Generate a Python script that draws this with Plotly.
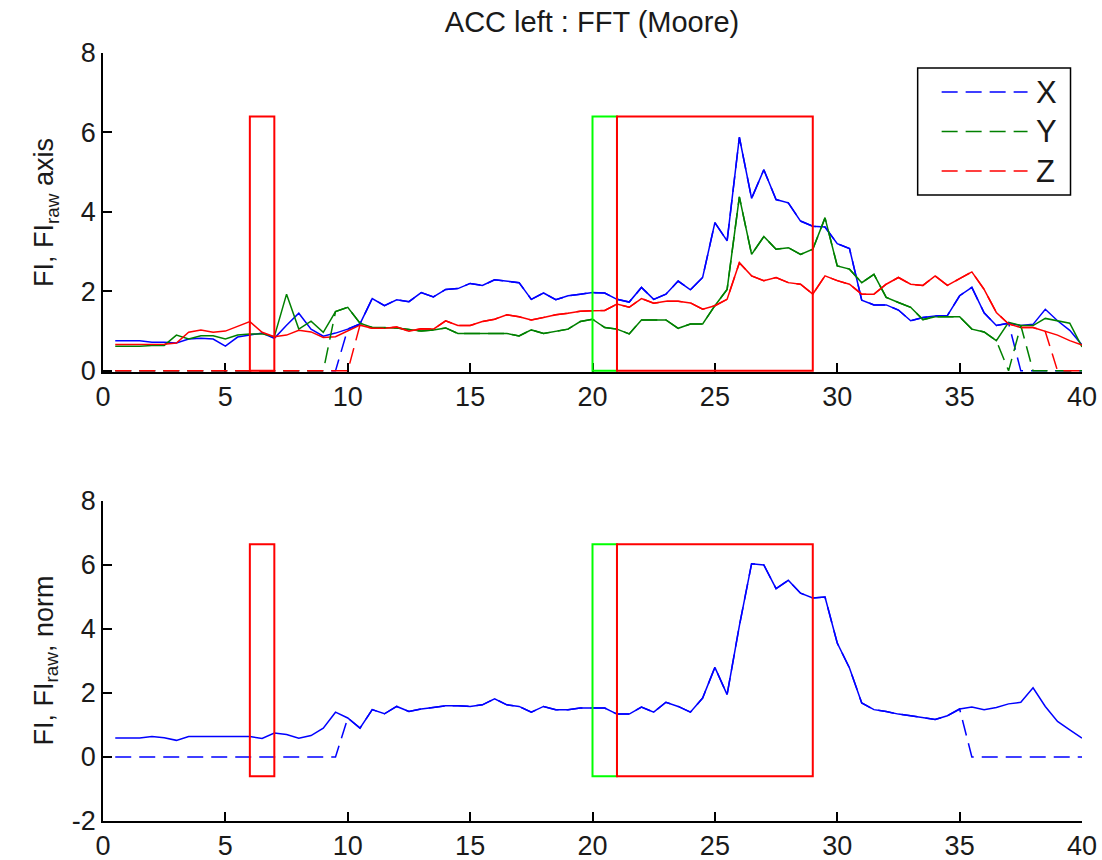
import numpy as np
import plotly.graph_objects as go

# Sample times (s), 0.5 s steps
t = np.arange(0.5, 40.0001, 0.5)

# Per-axis freeze index (solid) and raw index (dashed)
fi_x = [0.76, 0.76, 0.76, 0.72, 0.72, 0.70, 0.80, 0.82, 0.80, 0.62,
        0.85, 0.90, 0.95, 0.82, 1.15, 1.45, 1.05, 0.87, 0.95, 1.05,
        1.18, 1.82, 1.64, 1.79, 1.74, 1.97, 1.86, 2.05, 2.07, 2.20,
        2.15, 2.29, 2.26, 2.22, 1.80, 1.96, 1.79, 1.89, 1.93, 1.97,
        1.96, 1.80, 1.73, 2.10, 1.80, 1.93, 2.26, 2.04, 2.35, 3.73,
        3.27, 5.88, 4.34, 5.06, 4.31, 4.23, 3.77, 3.64, 3.62, 3.20,
        3.08, 1.78, 1.66, 1.66, 1.53, 1.26, 1.34, 1.38, 1.39, 1.89,
        2.10, 1.46, 1.14, 1.20, 1.14, 1.17, 1.55, 1.26, 1.02, 0.65]
fi_y = [0.62, 0.62, 0.62, 0.64, 0.64, 0.90, 0.80, 0.88, 0.88, 0.80,
        0.90, 0.93, 0.93, 0.86, 1.93, 1.05, 1.25, 0.97, 1.49, 1.60,
        1.20, 1.09, 1.09, 1.08, 1.04, 1.00, 1.03, 1.08, 0.94, 0.94,
        0.94, 0.94, 0.94, 0.88, 1.03, 0.94, 0.99, 1.05, 1.24, 1.30,
        1.09, 1.05, 0.93, 1.28, 1.28, 1.28, 1.07, 1.18, 1.18, 1.64,
        2.05, 4.38, 2.93, 3.38, 3.06, 3.10, 2.93, 3.06, 3.85, 2.64,
        2.56, 2.22, 2.43, 1.85, 1.72, 1.60, 1.29, 1.36, 1.36, 1.36,
        1.05, 0.98, 0.76, 1.22, 1.14, 1.14, 1.32, 1.26, 1.20, 0.60]
fi_z = [0.66, 0.66, 0.66, 0.66, 0.67, 0.70, 0.97, 1.03, 0.97, 1.00,
        1.12, 1.24, 0.97, 0.86, 0.90, 1.02, 0.98, 0.84, 0.86, 1.00,
        1.15, 1.07, 1.07, 1.10, 1.00, 1.06, 1.05, 1.26, 1.14, 1.14,
        1.24, 1.30, 1.41, 1.36, 1.28, 1.34, 1.41, 1.45, 1.50, 1.51,
        1.52, 1.68, 1.60, 1.82, 1.70, 1.75, 1.75, 1.71, 1.55, 1.64,
        1.80, 2.72, 2.39, 2.27, 2.35, 2.22, 2.18, 1.93, 2.39, 2.27,
        2.18, 1.93, 1.93, 2.18, 2.35, 2.18, 2.15, 2.39, 2.15, 2.32,
        2.49, 2.05, 1.47, 1.18, 1.09, 1.09, 0.99, 0.90, 0.76, 0.65]

fi_raw_x = [0, 0, 0, 0, 0, 0, 0, 0, 0, 0,
            0, 0, 0, 0, 0, 0, 0, 0, 0, 1.05,
            1.18, 1.82, 1.64, 1.79, 1.74, 1.97, 1.86, 2.05, 2.07, 2.20,
            2.15, 2.29, 2.26, 2.22, 1.80, 1.96, 1.79, 1.89, 1.93, 1.97,
            1.96, 1.80, 1.73, 2.10, 1.80, 1.93, 2.26, 2.04, 2.35, 3.73,
            3.27, 5.88, 4.34, 5.06, 4.31, 4.23, 3.77, 3.64, 3.62, 3.20,
            3.08, 1.78, 1.66, 1.66, 1.53, 1.26, 1.34, 1.38, 1.39, 1.89,
            2.10, 1.46, 1.14, 1.20, 0, 0, 0, 0, 0, 0]
fi_raw_y = [0, 0, 0, 0, 0, 0, 0, 0, 0, 0,
            0, 0, 0, 0, 0, 0, 0, 0, 1.49, 1.60,
            1.20, 1.09, 1.09, 1.08, 1.04, 1.00, 1.03, 1.08, 0.94, 0.94,
            0.94, 0.94, 0.94, 0.88, 1.03, 0.94, 0.99, 1.05, 1.24, 1.30,
            1.09, 1.05, 0.93, 1.28, 1.28, 1.28, 1.07, 1.18, 1.18, 1.64,
            2.05, 4.38, 2.93, 3.38, 3.06, 3.10, 2.93, 3.06, 3.85, 2.64,
            2.56, 2.22, 2.43, 1.85, 1.72, 1.60, 1.29, 1.36, 1.36, 1.36,
            1.05, 0.98, 0.76, 0, 1.14, 0, 0, 0, 0, 0]
fi_raw_z = [0, 0, 0, 0, 0, 0, 0, 0, 0, 0,
            0, 0, 0, 0, 0, 0, 0, 0, 0, 0,
            1.15, 1.07, 1.07, 1.10, 1.00, 1.06, 1.05, 1.26, 1.14, 1.14,
            1.24, 1.30, 1.41, 1.36, 1.28, 1.34, 1.41, 1.45, 1.50, 1.51,
            1.52, 1.68, 1.60, 1.82, 1.70, 1.75, 1.75, 1.71, 1.55, 1.64,
            1.80, 2.72, 2.39, 2.27, 2.35, 2.22, 2.18, 1.93, 2.39, 2.27,
            2.18, 1.93, 1.93, 2.18, 2.35, 2.18, 2.15, 2.39, 2.15, 2.32,
            2.49, 2.05, 1.47, 1.18, 1.09, 1.09, 0.99, 0, 0, 0]

# Norm of the three axes
fi_norm = [0.59, 0.59, 0.59, 0.64, 0.60, 0.52, 0.64, 0.64, 0.64, 0.64,
           0.64, 0.64, 0.58, 0.75, 0.70, 0.59, 0.67, 0.90, 1.40, 1.22,
           0.90, 1.48, 1.35, 1.58, 1.42, 1.50, 1.55, 1.60, 1.60, 1.58,
           1.63, 1.82, 1.63, 1.58, 1.40, 1.58, 1.48, 1.48, 1.53, 1.53,
           1.53, 1.34, 1.34, 1.56, 1.40, 1.71, 1.58, 1.40, 1.84, 2.80,
           1.95, 4.10, 6.04, 6.00, 5.26, 5.52, 5.12, 4.97, 5.00, 3.56,
           2.78, 1.69, 1.48, 1.42, 1.34, 1.29, 1.22, 1.17, 1.29, 1.50,
           1.56, 1.48, 1.55, 1.66, 1.71, 2.16, 1.58, 1.11, 0.85, 0.59]
fi_raw_norm = [0, 0, 0, 0, 0, 0, 0, 0, 0, 0,
               0, 0, 0, 0, 0, 0, 0, 0, 0, 1.22,
               0.90, 1.48, 1.35, 1.58, 1.42, 1.50, 1.55, 1.60, 1.60, 1.58,
               1.63, 1.82, 1.63, 1.58, 1.40, 1.58, 1.48, 1.48, 1.53, 1.53,
               1.53, 1.34, 1.34, 1.56, 1.40, 1.71, 1.58, 1.40, 1.84, 2.80,
               1.95, 4.10, 6.04, 6.00, 5.26, 5.52, 5.12, 4.97, 5.00, 3.56,
               2.78, 1.69, 1.48, 1.42, 1.34, 1.29, 1.22, 1.17, 1.29, 1.50,
               0, 0, 0, 0, 0, 0, 0, 0, 0, 0]

# Annotated event windows: (start, end, colour)
windows = [(6, 7, "#FF0000"), (20, 21, "#00FF00"), (21, 29, "#FF0000")]
win_y_top = (0, 6.4)
win_y_bottom = (-0.6, 6.65)

# Tick values and labels
x_ticks = [0, 5, 10, 15, 20, 25, 30, 35, 40]
y_ticks_top = [0, 2, 4, 6, 8]
y_ticks_bottom = [-2, 0, 2, 4, 6, 8]
y_ticktext_bottom = ["-2", "0", "2", "4", "6", "8"]

axis_names = ["X", "Y", "Z"]
axis_colors = ["#0000FF", "#008000", "#FF0000"]
fi_axes = [fi_x, fi_y, fi_z]
fi_raw_axes = [fi_raw_x, fi_raw_y, fi_raw_z]

FONT = "Liberation Sans, Arial, sans-serif"
TXT = "#1a1a1a"
DASH = "16px,8px"

# Page geometry (px): plot area and subplot domains
W, H = 1102, 860
ML, MR, MT, MB = 102.5, 19.5, 53, 39
PW, PH = W - ML - MR, H - MT - MB
TOP_DOM = [0.5846, 1.0]
BOT_DOM = [0.0, 0.4167]


def px_to_paper(px, py):
    return (px - ML) / PW, (H - MB - py) / PH


fig = go.Figure()

for name, col, vals in zip(axis_names, axis_colors, fi_axes):
    fig.add_trace(go.Scatter(x=t, y=vals, mode="lines", showlegend=False,
                             line=dict(color=col, width=1.5), xaxis="x", yaxis="y"))
for name, col, vals in zip(axis_names, axis_colors, fi_raw_axes):
    fig.add_trace(go.Scatter(x=t, y=vals, mode="lines", name=name, showlegend=False,
                             line=dict(color=col, width=1.5, dash=DASH),
                             xaxis="x", yaxis="y"))

fig.add_trace(go.Scatter(x=t, y=fi_norm, mode="lines", showlegend=False,
                         line=dict(color="#0000FF", width=1.5), xaxis="x2", yaxis="y2"))
fig.add_trace(go.Scatter(x=t, y=fi_raw_norm, mode="lines", showlegend=False,
                         line=dict(color="#0000FF", width=1.5, dash=DASH),
                         xaxis="x2", yaxis="y2"))

for x0, x1, col in windows:
    fig.add_shape(type="rect", xref="x", yref="y", x0=x0, x1=x1,
                  y0=win_y_top[0], y1=win_y_top[1],
                  line=dict(color=col, width=2), layer="above")
    fig.add_shape(type="rect", xref="x2", yref="y2", x0=x0, x1=x1,
                  y0=win_y_bottom[0], y1=win_y_bottom[1],
                  line=dict(color=col, width=2), layer="above")

# Legend box with long dashed samples (drawn as layout shapes)
bx0, by0 = px_to_paper(918, 68)
bx1, by1 = px_to_paper(1071, 195)
fig.add_shape(type="rect", xref="paper", yref="paper", x0=bx0, x1=bx1, y0=by1, y1=by0,
              line=dict(color="black", width=1.5), fillcolor="white", layer="above")
for i, (name, col) in enumerate(zip(axis_names, axis_colors)):
    row_y = 92 + 39.5 * i
    lx0, ly = px_to_paper(942, row_y)
    lx1, _ = px_to_paper(1028, row_y)
    fig.add_shape(type="line", xref="paper", yref="paper", x0=lx0, x1=lx1, y0=ly, y1=ly,
                  line=dict(color=col, width=1.5, dash=DASH), layer="above")
    tx, _ = px_to_paper(1034, row_y)
    fig.add_annotation(text=name, xref="paper", yref="paper", x=tx, y=ly,
                       xanchor="left", yanchor="middle", showarrow=False,
                       font=dict(family=FONT, size=31, color=TXT))

axis_common = dict(showline=True, linecolor="black", linewidth=1.5,
                   ticks="inside", ticklen=9, tickwidth=1.5, tickcolor="black",
                   showgrid=False, zeroline=False, mirror=False, automargin=False,
                   tickfont=dict(family=FONT, size=27, color=TXT),
                   layer="below traces")

fig.update_layout(
    width=W, height=H,
    paper_bgcolor="white", plot_bgcolor="white",
    margin=dict(l=ML, r=MR, t=MT, b=MB, autoexpand=False),
    font=dict(family=FONT, color=TXT),
    title=dict(text="ACC left : FFT (Moore)", x=592 / W, xanchor="center",
               y=1 - 22 / H, yanchor="middle", yref="container", automargin=False,
               font=dict(family=FONT, size=29, color=TXT)),
    xaxis=dict(domain=[0, 1], anchor="y", range=[0, 40], tickvals=x_ticks,
               **axis_common),
    yaxis=dict(domain=TOP_DOM, anchor="x", range=[-0.03, 8], tickvals=y_ticks_top,
               **axis_common),
    xaxis2=dict(domain=[0, 1], anchor="y2", range=[0, 40], tickvals=x_ticks,
                **axis_common),
    yaxis2=dict(domain=BOT_DOM, anchor="x2", range=[-2, 8],
                tickvals=y_ticks_bottom, ticktext=y_ticktext_bottom, **axis_common),
    showlegend=False,
)

lab_x, _ = px_to_paper(45, 0)
fig.add_annotation(text="FI, FI<sub>raw</sub> axis", xref="paper", yref="paper",
                   x=lab_x, y=sum(TOP_DOM) / 2, textangle=-90, showarrow=False,
                   xanchor="center", yanchor="middle",
                   font=dict(family=FONT, size=27, color=TXT))
fig.add_annotation(text="FI, FI<sub>raw</sub>, norm", xref="paper", yref="paper",
                   x=lab_x, y=sum(BOT_DOM) / 2, textangle=-90, showarrow=False,
                   xanchor="center", yanchor="middle",
                   font=dict(family=FONT, size=27, color=TXT))

fig.write_html("out.html")
